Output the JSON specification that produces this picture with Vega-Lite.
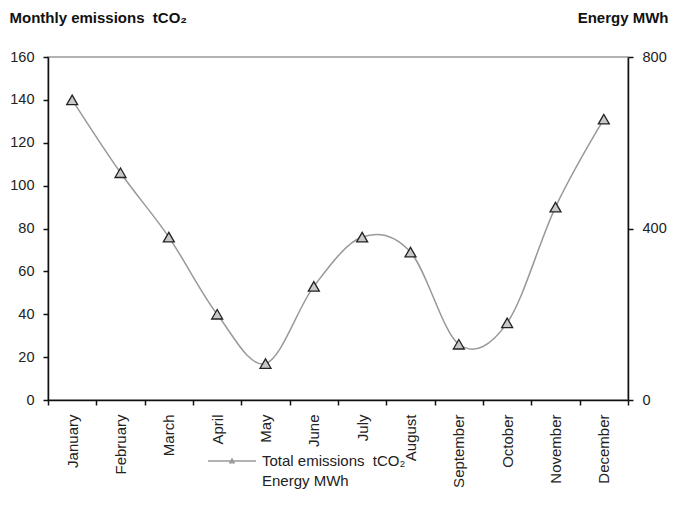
{
  "$schema": "https://vega.github.io/schema/vega-lite/v6.json",
  "width": 580,
  "height": 343,
  "autosize": {"type": "none"},
  "padding": {"left": 48, "top": 57, "right": 46, "bottom": 117},
  "background": "white",
  "config": {
    "font": "Liberation Sans",
    "view": {"stroke": "#999", "strokeWidth": 1.5},
    "axis": {
      "labelFont": "Liberation Sans",
      "labelFontSize": 15,
      "labelColor": "#222",
      "domainColor": "#111",
      "domainWidth": 1.5,
      "tickColor": "#111",
      "tickWidth": 1.5,
      "tickSize": 5,
      "grid": false,
      "titleFont": "Liberation Sans",
      "titleFontSize": 15,
      "titleFontWeight": "bold",
      "titleColor": "#111"
    }
  },
  "data": {
    "values": [
      {"month": "January", "emissions": 140, "energy": null},
      {"month": "February", "emissions": 106, "energy": null},
      {"month": "March", "emissions": 76, "energy": null},
      {"month": "April", "emissions": 40, "energy": null},
      {"month": "May", "emissions": 17, "energy": null},
      {"month": "June", "emissions": 53, "energy": null},
      {"month": "July", "emissions": 76, "energy": null},
      {"month": "August", "emissions": 69, "energy": null},
      {"month": "September", "emissions": 26, "energy": null},
      {"month": "October", "emissions": 36, "energy": null},
      {"month": "November", "emissions": 90, "energy": null},
      {"month": "December", "emissions": 131, "energy": null}
    ]
  },
  "encoding": {
    "x": {
      "field": "month",
      "type": "nominal",
      "sort": null,
      "scale": {"paddingInner": 0, "paddingOuter": 0},
      "axis": {
        "title": null,
        "labelAngle": -90,
        "labelAlign": "right",
        "labelBaseline": "middle",
        "labelPadding": 9,
        "tickBand": "extent"
      }
    }
  },
  "layer": [
    {
      "layer": [
        {
          "mark": {"type": "line", "interpolate": "cardinal", "strokeWidth": 1.5},
          "encoding": {
            "y": {
              "field": "emissions",
              "type": "quantitative",
              "scale": {"domain": [0, 160]},
              "axis": {
                "title": "Monthly emissions\u00a0 tCO₂",
                "values": [0, 20, 40, 60, 80, 100, 120, 140, 160],
                "labelPadding": 9,
                "labelFontSize": 14.5,
                "titleAngle": 0,
                "titleAlign": "left",
                "titleBaseline": "alphabetic",
                "titleX": -39,
                "titleY": -35
              }
            },
            "color": {
              "datum": "Total emissions\u00a0 tCO₂",
              "scale": {"domain": ["Total emissions\u00a0 tCO₂", "Energy MWh"], "range": ["#999999", "#999999"]},
              "legend": {
                "title": null,
                "orient": "none",
                "legendX": 173,
                "legendY": 393,
                "direction": "vertical",
                "symbolType": "M-2.4,0H2.4M-0.2,0.17L0,-0.2L0.2,0.17Z",
                "symbolSize": 400,
                "symbolStrokeWidth": 1.5,
                "labelFont": "Liberation Sans",
                "labelFontSize": 15,
                "labelColor": "#222",
                "labelOffset": 19,
                "rowPadding": 1,
                "encode": {
                  "symbols": {
                    "update": {
                      "fill": {"value": "#c8c8c8"},
                      "stroke": {"value": "#888888"},
                      "opacity": {"signal": "datum.value === 'Energy MWh' ? 0 : 1"}
                    }
                  }
                }
              }
            }
          }
        },
        {
          "mark": {"type": "point", "shape": "triangle-up", "filled": true, "fill": "#c8c8c8", "stroke": "#222", "strokeWidth": 1.3, "opacity": 1, "size": 120},
          "encoding": {
            "y": {"field": "emissions", "type": "quantitative", "scale": {"domain": [0, 160]}}
          }
        }
      ]
    },
    {
      "mark": {"type": "line", "strokeWidth": 1.5},
      "encoding": {
        "y": {
          "field": "energy",
          "type": "quantitative",
          "scale": {"domain": [0, 800]},
          "axis": {
            "orient": "right",
            "title": "Energy MWh",
            "values": [0, 400, 800],
            "labelPadding": 9,
            "labelFontSize": 14.5,
            "titleAngle": 0,
            "titleAlign": "right",
            "titleBaseline": "alphabetic",
            "titleX": 40,
            "titleY": -35
          }
        },
        "color": {"datum": "Energy MWh"}
      }
    }
  ],
  "resolve": {"scale": {"y": "independent"}}
}
